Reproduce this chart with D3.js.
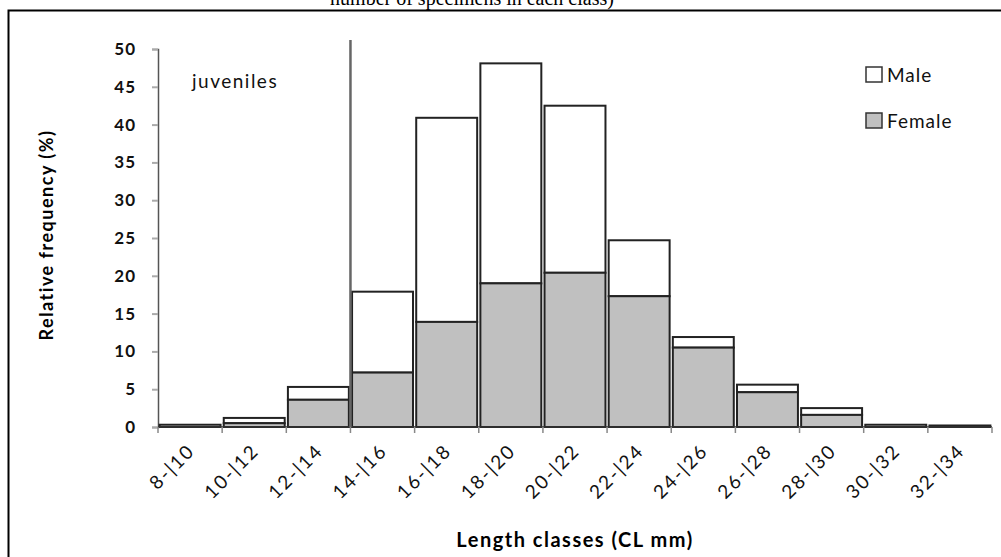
<!DOCTYPE html>
<html>
<head>
<meta charset="utf-8">
<script src="https://cdn.jsdelivr.net/npm/d3@7"></script>
<style>
  body { margin: 0; background: #fff; }
  svg { display: block; }
</style>
</head>
<body>
<svg id="chart" width="1001" height="557"></svg>
<script>
// length classes (CL mm) and relative frequencies (%)
var classes = ["8-|10", "10-|12", "12-|14", "14-|16", "16-|18", "18-|20", "20-|22",
               "22-|24", "24-|26", "26-|28", "28-|30", "30-|32", "32-|34"]
var female = [0, 0.5, 3.6, 7.2, 13.9, 19.0, 20.4, 17.3, 10.5, 4.6, 1.6, 0, 0]
var male   = [0.3, 0.7, 1.7, 10.7, 27.0, 29.1, 22.1, 7.4, 1.4, 1.0, 0.9, 0.3, 0.2]
var yTicks = [0, 5, 10, 15, 20, 25, 30, 35, 40, 45, 50]
var juvenileLimit = 3   // index of first adult class

var svg = d3.select("#chart")
var font = "Lato, 'Open Sans', sans-serif"

// frame and the caption line above it (cut by the page edge, as in the source)
svg.append("text").attr("x", 472).attr("y", 5)
    .attr("text-anchor", "middle")
    .style("font-family", "'Liberation Serif', serif").style("font-size", "20px")
    .text("number of specimens in each class)")
svg.append("path").attr("d", "M8.5,557 V10.5 H1001")
    .style("fill", "none").style("stroke", "#000").style("stroke-width", "2px")

var x = d3.scaleBand().domain(classes).range([158, 992]).paddingInner(0.05).paddingOuter(0.025)
var y = d3.scaleLinear().domain([0, 50]).range([427, 49])

// y axis
var yAxis = svg.append("g").attr("transform", "translate(158,0)")
    .call(d3.axisLeft(y).tickValues(yTicks).tickSize(6).tickPadding(16))
yAxis.select(".domain").style("stroke", "#555").style("stroke-width", "1.5px")
yAxis.selectAll(".tick line").style("stroke", "#aaa").style("stroke-width", "2px")
yAxis.selectAll(".tick text").style("font-family", font).style("font-size", "17px")
    .style("font-weight", "bold").style("letter-spacing", "1px").style("fill", "#111")

// bars: female at the bottom, male stacked on top
var bars = svg.append("g")
classes.forEach(function(c, i) {
    var bx = x(c), bw = x.bandwidth()
    bars.append("rect").attr("class", "male")
        .attr("x", bx).attr("width", bw)
        .attr("y", y(female[i] + male[i])).attr("height", y(female[i]) - y(female[i] + male[i]))
        .style("fill", "#fff").style("stroke", "#222").style("stroke-width", "2px")
    if (female[i] > 0) {
        bars.append("rect").attr("class", "female")
            .attr("x", bx).attr("width", bw)
            .attr("y", y(female[i])).attr("height", y(0) - y(female[i]))
            .style("fill", "#c0c0c0").style("stroke", "#222").style("stroke-width", "2px")
    }
})

// x axis with ticks at class boundaries
var half = (x.step() - x.bandwidth()) / 2
var xAxis = svg.append("g")
xAxis.append("line").attr("x1", 158).attr("x2", 992).attr("y1", y(0)).attr("y2", y(0))
    .style("stroke", "#333").style("stroke-width", "1.5px")
var bounds = classes.map(function(c) { return x(c) - half })
bounds.push(x(classes[classes.length - 1]) + x.bandwidth() + half)
bounds.forEach(function(b) {
    xAxis.append("line").attr("x1", b).attr("x2", b).attr("y1", y(0)).attr("y2", y(0) + 6)
        .style("stroke", "#888").style("stroke-width", "1.5px")
})
classes.forEach(function(c) {
    var cx = x(c) + x.bandwidth() / 2 + 6
    xAxis.append("text")
        .attr("transform", "translate(" + cx + "," + 452 + ") rotate(-45)")
        .attr("text-anchor", "end")
        .style("font-family", font).style("font-size", "19px")
        .style("letter-spacing", "2px").style("fill", "#111")
        .text(c)
})

// juveniles separator
var lx = x(classes[juvenileLimit]) - half
svg.append("line").attr("x1", lx).attr("x2", lx).attr("y1", y(51.2)).attr("y2", y(0))
    .style("stroke", "#666").style("stroke-width", "2.5px")
svg.append("text").attr("x", 192).attr("y", 88)
    .style("font-family", font).style("font-size", "19px")
    .style("letter-spacing", "1.5px").style("fill", "#111")
    .text("juveniles")

// axis titles
svg.append("text").attr("transform", "translate(53,235) rotate(-90)")
    .attr("text-anchor", "middle")
    .style("font-family", font).style("font-size", "18px").style("font-weight", "bold")
    .style("letter-spacing", "1.5px")
    .text("Relative frequency (%)")
svg.append("text").attr("x", 575).attr("y", 547).attr("text-anchor", "middle")
    .style("font-family", font).style("font-size", "20px").style("font-weight", "bold")
    .style("letter-spacing", "1.5px")
    .text("Length classes (CL mm)")

// legend
var legend = [{name: "Male", fill: "#fff", y: 67}, {name: "Female", fill: "#c0c0c0", y: 113}]
legend.forEach(function(d) {
    svg.append("rect").attr("x", 866).attr("y", d.y).attr("width", 16).attr("height", 15)
        .style("fill", d.fill).style("stroke", "#333").style("stroke-width", "1.5px")
    svg.append("text").attr("x", 887).attr("y", d.y + 15)
        .style("font-family", font).style("font-size", "19px")
        .style("letter-spacing", "1px").style("fill", "#111")
        .text(d.name)
})
</script>
</body>
</html>
